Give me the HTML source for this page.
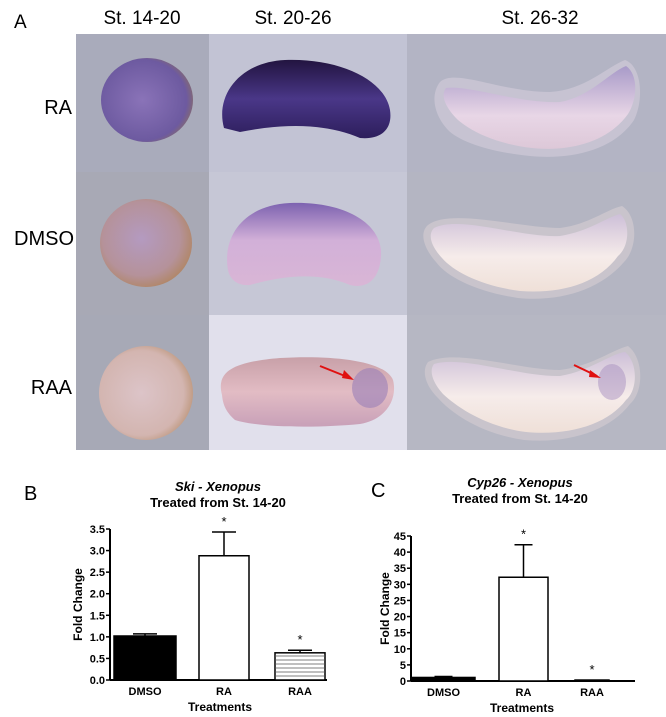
<!DOCTYPE html>
<html><head><meta charset="utf-8"><style>
html,body{margin:0;padding:0;background:#fff;width:666px;height:717px;overflow:hidden}
svg{display:block;font-family:"Liberation Sans",Arial,sans-serif}
</style></head><body>
<svg width="666" height="717" viewBox="0 0 666 717">
<defs>
<radialGradient id="eggA" cx="0.45" cy="0.5" r="0.6"><stop offset="0" stop-color="#8a73b8"/><stop offset="0.8" stop-color="#6d5aa0"/><stop offset="1" stop-color="#8d7060"/></radialGradient>
<radialGradient id="eggB" cx="0.45" cy="0.45" r="0.6"><stop offset="0" stop-color="#b49ac0"/><stop offset="0.7" stop-color="#b5929a"/><stop offset="1" stop-color="#b08560"/></radialGradient>
<radialGradient id="eggC" cx="0.45" cy="0.5" r="0.6"><stop offset="0" stop-color="#dcc4c8"/><stop offset="0.75" stop-color="#d3b5b0"/><stop offset="1" stop-color="#b89070"/></radialGradient>
<linearGradient id="darkK" x1="0" y1="0" x2="0" y2="1"><stop offset="0" stop-color="#221440"/><stop offset="0.5" stop-color="#4a3788"/><stop offset="1" stop-color="#2d1e5c"/></linearGradient>
<linearGradient id="midK" x1="0" y1="0" x2="0" y2="1"><stop offset="0" stop-color="#7d62b0"/><stop offset="0.45" stop-color="#d2b0d8"/><stop offset="1" stop-color="#d9b6d6"/></linearGradient>
<linearGradient id="lightK" x1="0" y1="0" x2="0" y2="1"><stop offset="0" stop-color="#c8a0a8"/><stop offset="0.5" stop-color="#e2bcc4"/><stop offset="1" stop-color="#c8a0b8"/></linearGradient>
<linearGradient id="tad1" x1="0" y1="0" x2="0" y2="1"><stop offset="0" stop-color="#a89ac8"/><stop offset="0.6" stop-color="#e8d6e6"/><stop offset="1" stop-color="#ddc8d8"/></linearGradient>
<linearGradient id="tad2" x1="0" y1="0" x2="0" y2="1"><stop offset="0" stop-color="#cdbfd8"/><stop offset="0.55" stop-color="#f6ecea"/><stop offset="1" stop-color="#efe0d8"/></linearGradient>
</defs>

<g>
<text x="14" y="28" font-size="19">A</text>
<text x="142" y="24" font-size="19" text-anchor="middle">St. 14-20</text>
<text x="293" y="24" font-size="19" text-anchor="middle">St. 20-26</text>
<text x="540" y="24" font-size="19" text-anchor="middle">St. 26-32</text>
<text x="72" y="114" font-size="20" text-anchor="end">RA</text>
<text x="74" y="245" font-size="20" text-anchor="end">DMSO</text>
<text x="72" y="394" font-size="20" text-anchor="end">RAA</text>

<rect x="76" y="34" width="133" height="138" fill="#a9abbb"/>
<rect x="76" y="172" width="133" height="143" fill="#a8a9b5"/>
<rect x="76" y="315" width="133" height="135" fill="#a7a9b6"/>
<rect x="209" y="34" width="198" height="138" fill="#c2c3d4"/>
<rect x="209" y="172" width="198" height="143" fill="#c6c7d6"/>
<rect x="209" y="315" width="198" height="135" fill="#e1e0ec"/>
<rect x="407" y="34" width="259" height="138" fill="#b3b4c4"/>
<rect x="407" y="172" width="259" height="143" fill="#b4b5c2"/>
<rect x="407" y="315" width="259" height="135" fill="#b6b7c3"/>

<ellipse cx="147" cy="100" rx="46" ry="42" fill="url(#eggA)"/>
<ellipse cx="146" cy="243" rx="46" ry="44" fill="url(#eggB)"/>
<ellipse cx="146" cy="393" rx="47" ry="47" fill="url(#eggC)"/>

<path d="M224,128 C215,95 240,62 285,60 C340,58 385,80 390,110 C393,130 380,140 360,138 C330,125 290,122 240,132 Z" fill="url(#darkK)"/>
<path d="M228,270 C222,235 245,205 290,203 C340,201 378,220 381,250 C382,275 370,290 350,285 C320,272 285,275 250,285 C238,286 230,280 228,270 Z" fill="url(#midK)"/>
<path d="M222,395 C216,372 232,362 280,358 C330,355 385,360 393,380 C398,400 385,420 360,424 C320,428 260,428 235,420 C226,412 223,405 222,395 Z" fill="url(#lightK)"/>
<ellipse cx="370" cy="388" rx="18" ry="20" fill="#9a7fb8" opacity="0.6"/>
<line x1="320" y1="366" x2="350" y2="378" stroke="#e01010" stroke-width="2"/>
<polygon points="354,380 344,370 342,378" fill="#e01010"/>

<path d="M440,82 C455,68 500,92 550,92 C585,90 605,68 625,60 C642,66 644,100 634,120 C614,150 572,160 530,156 C490,152 460,142 448,130 C434,115 430,95 440,82 Z" fill="#c7c3d2"/>
<path d="M446,88 C470,85 520,104 560,102 C590,97 610,72 626,66 C638,74 638,98 628,114 C608,142 570,152 532,148 C497,144 472,132 458,120 C446,108 440,96 446,88 Z" fill="url(#tad1)"/>
<path d="M428,225 C450,208 520,228 560,228 C590,224 605,210 622,206 C638,216 638,248 624,262 C600,290 560,302 518,298 C478,292 448,278 436,262 C422,246 420,232 428,225 Z" fill="#c9c4cc"/>
<path d="M434,228 C460,215 520,238 560,236 C590,231 605,218 620,214 C630,222 630,246 618,256 C598,284 560,294 520,291 C482,286 454,272 442,258 C430,245 428,234 434,228 Z" fill="url(#tad2)"/>
<path d="M428,362 C455,348 520,370 560,370 C592,366 612,350 628,346 C644,358 644,392 630,404 C610,430 570,444 524,440 C482,434 452,414 438,398 C424,384 422,370 428,362 Z" fill="#c9c4cc"/>
<path d="M434,364 C462,355 520,377 560,376 C590,371 610,354 625,352 C638,362 638,390 626,400 C608,424 570,436 526,432 C487,427 458,408 443,394 C432,382 429,370 434,364 Z" fill="url(#tad2)"/>
<ellipse cx="612" cy="382" rx="14" ry="18" fill="#a890c0" opacity="0.5"/>
<line x1="574" y1="365" x2="597" y2="376" stroke="#e01010" stroke-width="2"/>
<polygon points="601,378 590,370 589,377" fill="#e01010"/>
</g>

<g id="chartB"></g>
<g id="chartC"></g>
</svg>
<script>
const catsB = ["DMSO","RA","RAA"];
const valsB = [1.02, 2.88, 0.63];
const errB = [0.05, 0.55, 0.06];
const ticksB = ["0.0","0.5","1.0","1.5","2.0","2.5","3.0","3.5"];
const starsB = ["", "*", "*"];
const catsC = ["DMSO","RA","RAA"];
const valsC = [1.1, 32.2, 0.3];
const errC = [0.3, 10.1, 0];
const ticksC = ["0","5","10","15","20","25","30","35","40","45"];
const starsC = ["", "*", "*"];
const NS = "http://www.w3.org/2000/svg";
function mk(parent, tag, attrs){const e=document.createElementNS(NS,tag);for(const k in attrs)e.setAttribute(k,attrs[k]);parent.appendChild(e);return e;}
function draw(g, o){
  const y = v => o.y0 - (v - 0) / o.max * (o.y0 - o.yTop);
  const t1 = mk(g,'text',{x:o.tx,y:o.ty1,'font-size':13,'font-weight':'bold','font-style':'italic','text-anchor':'middle'});
  t1.textContent = o.title1;
  
  
  const t2 = mk(g,'text',{x:o.tx,y:o.ty2,'font-size':13,'font-weight':'bold','text-anchor':'middle'});
  t2.textContent = "Treated from St. 14-20";
  
  
  const pl = mk(g,'text',{x:o.lx,y:o.ly,'font-size':20});
  pl.textContent = o.letter;
  
  
  const ya = mk(g,'line',{x1:o.ax,y1:o.yTop,x2:o.ax,y2:o.y0,stroke:'#000','stroke-width':2});
  
  
  const xa = mk(g,'line',{x1:o.ax,y1:o.y0,x2:o.xEnd,y2:o.y0,stroke:'#000','stroke-width':2});
  
  
  o.ticks.forEach((lab,i)=>{
    const v = parseFloat(lab);
    const tk = mk(g,'line',{x1:o.ax-4,y1:y(v),x2:o.ax,y2:y(v),stroke:'#000','stroke-width':1.5});
    
    
    const tl = mk(g,'text',{x:o.ax-5,y:y(v)+4,'font-size':11,'font-weight':'bold','text-anchor':'end'});
    tl.textContent = lab;
    
    
  });
  const yt = mk(g,'text',{x:0,y:0,'font-size':12,'font-weight':'bold','text-anchor':'middle',transform:`translate(${o.ylx},${(o.y0+o.yTop)/2}) rotate(-90)`});
  yt.textContent = "Fold Change";
  
  
  const xt = mk(g,'text',{x:o.xtx,y:o.y0+31,'font-size':12,'font-weight':'bold','text-anchor':'middle'});
  xt.textContent = "Treatments";
  
  
  o.cats.forEach((c,i)=>{
    const x0 = o.bx[i], w = o.bw[i], v = o.vals[i];
    const fill = i===0 ? '#000' : '#fff';
    if (o.err[i] > 0) {
      const ey = y(v + o.err[i]);
      const e1 = mk(g,'line',{x1:x0+w/2,y1:y(v),x2:x0+w/2,y2:ey,stroke:'#000','stroke-width':1.5});
      
      
      const e2 = mk(g,'line',{x1:x0+w/2-o.capw,y1:ey,x2:x0+w/2+o.capw,y2:ey,stroke:'#000','stroke-width':1.5});
      
      
    }
    const b = mk(g,'rect',{x:x0,y:y(v),width:w,height:Math.max(1,o.y0-y(v)),fill:fill,stroke:'#000','stroke-width':1.5});
    
    
    if (i===2 && o.stripes) {
      for (let yy=o.y0-4; yy>y(v)+1; yy-=4){
        const s = mk(g,'line',{x1:x0,y1:yy,x2:x0+w,y2:yy,stroke:'#555','stroke-width':0.8});
        
        
      }
    }
    if (o.stars[i]) {
      const st = mk(g,'text',{x:x0+w/2,y:y(v+o.err[i])-6,'font-size':13,'text-anchor':'middle'});
      st.textContent = o.stars[i];
      
      
    }
    const cl = mk(g,'text',{x:x0+w/2,y:o.y0+15,'font-size':11,'font-weight':'bold','text-anchor':'middle'});
    cl.textContent = c;
    
    
  });
}
draw(document.getElementById('chartB'),{cats:catsB,vals:valsB,err:errB,ticks:ticksB,stars:starsB,max:3.5,
  y0:680,yTop:529,ax:110,xEnd:327,bx:[114,199,275],bw:[62,50,50],capw:12,stripes:true,
  tx:218,ty1:491,ty2:507,lx:24,ly:500,letter:"B",ylx:82,xtx:220,title1:"Ski - Xenopus"});
draw(document.getElementById('chartC'),{cats:catsC,vals:valsC,err:errC,ticks:ticksC,stars:starsC,max:45,
  y0:681,yTop:536,ax:411,xEnd:635,bx:[412,499,575],bw:[63,49,34],capw:9,stripes:false,
  tx:520,ty1:487,ty2:503,lx:371,ly:497,letter:"C",ylx:389,xtx:522,title1:"Cyp26 - Xenopus"});
</script>
</body></html>
